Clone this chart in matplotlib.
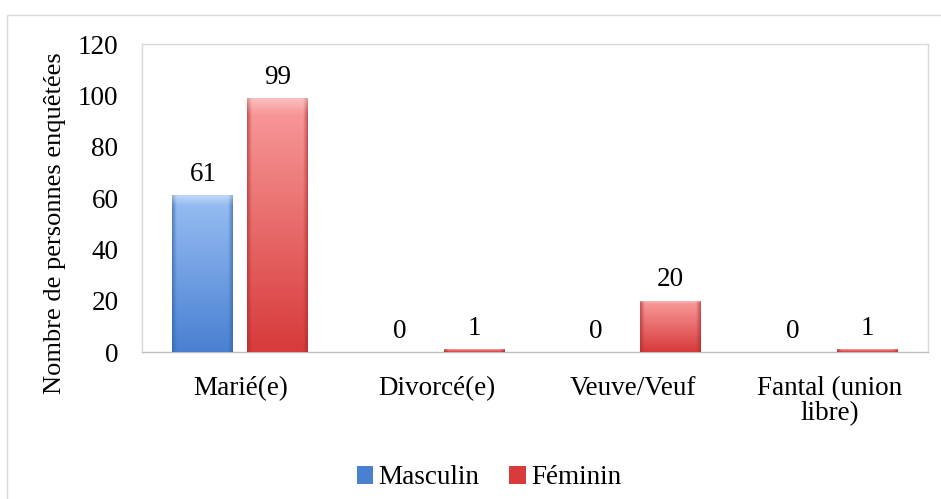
import numpy as np
import matplotlib
matplotlib.use("Agg")
import matplotlib.pyplot as plt
from matplotlib.patches import Rectangle
from matplotlib.colors import to_rgb

# Data
categories = ["Marié(e)", "Divorcé(e)", "Veuve/Veuf", "Fantal (union\nlibre)"]
masculin = [61, 0, 0, 0]
feminin = [99, 1, 20, 1]
series_names = ["Masculin", "Féminin"]
y_ticks = [0, 20, 40, 60, 80, 100, 120]

plt.rcParams["font.family"] = ["Liberation Serif", "DejaVu Serif"]
FS = 19.5


def gradient_img(top, bottom, edge, n=64):
    """Vertical gradient with darker side edges (Excel-style bevel)."""
    top, bottom, edge = map(np.array, (to_rgb(top), to_rgb(bottom), to_rgb(edge)))
    t = np.linspace(0, 1, n)[:, None, None]
    base = top * (1 - t) + bottom * t
    base = np.repeat(base, n, axis=1)
    x = np.linspace(-1, 1, n)[None, :, None]
    side = np.clip((np.abs(x) - 0.85) / 0.15, 0, 1)
    img = base * (1 - 0.6 * side) + edge * 0.6 * side
    # light bevel near the top
    y = np.linspace(0, 1, n)[:, None, None]
    hi = np.clip(1 - y / 0.06, 0, 1) * 0.35
    img = img * (1 - hi) + hi
    return np.clip(img, 0, 1)


fig = plt.figure(figsize=(9.41, 4.99), dpi=100)
# outer chart border
fig.patches.append(Rectangle((7 / 941, -0.05), 1.0, 1 - 15 / 499 + 0.05,
                             transform=fig.transFigure, fill=False,
                             edgecolor="#d9d9d9", linewidth=1.0))
ax = fig.add_axes([142 / 941, 1 - 352 / 499, (928 - 142) / 941, (352 - 44) / 499])

x = np.arange(len(categories))
width = 0.31
offset = 0.19
styles = [("#98bff3", "#4a80d2", "#2f5ea6"), ("#f99c9c", "#d83b3b", "#a82a2a")]

for values, off, name, (c_top, c_bot, c_edge) in zip(
        [masculin, feminin], [-offset, offset], series_names, styles):
    bars = ax.bar(x + off, values, width, color=c_bot, edgecolor="none",
                  label=name, zorder=2)
    img = gradient_img(c_top, c_bot, c_edge)
    for b, v in zip(bars, values):
        if v > 0:
            im = ax.imshow(img, extent=[b.get_x(), b.get_x() + b.get_width(), 0, v],
                           aspect="auto", zorder=3, interpolation="bilinear")
            im.set_clip_path(b)
        ax.annotate(str(v), (b.get_x() + b.get_width() / 2, v),
                    xytext=(0, 6), textcoords="offset points",
                    ha="center", va="bottom", fontsize=FS)

ax.set_xlim(-0.5, len(categories) - 0.5)
ax.set_ylim(0, 120)
ax.set_yticks(y_ticks)
ax.set_xticks(x)
ax.set_xticklabels(categories, fontsize=FS, linespacing=1.0)
ax.tick_params(axis="y", length=0, labelsize=FS, pad=17)
ax.tick_params(axis="x", length=0, pad=17)
ax.set_ylabel("Nombre de personnes enquêtées", fontsize=19)
ax.yaxis.set_label_coords(-0.0967, 0.42)
for s in ax.spines.values():
    s.set_color("#d9d9d9")
    s.set_linewidth(1.0)
ax.spines["bottom"].set_color("#bfbfbf")

leg = fig.legend(loc="center", bbox_to_anchor=(489 / 941, 1 - 478 / 499),
                 ncol=2, frameon=False, fontsize=FS, handlelength=0.6,
                 handleheight=0.6, handletextpad=0.2, columnspacing=1.1)

fig.savefig("out.png", dpi=100)
